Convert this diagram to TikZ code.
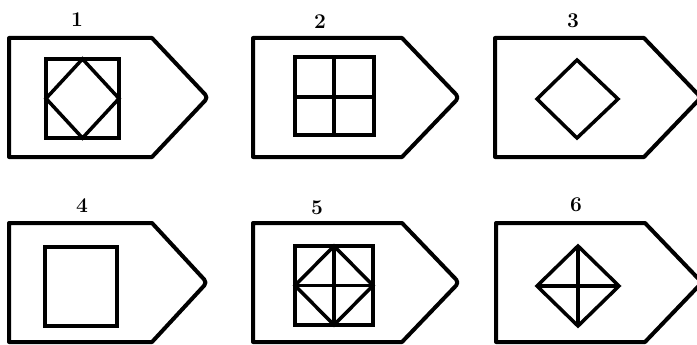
\documentclass[tikz,border=0pt]{standalone}
\begin{document}
\begin{tikzpicture}[x=1pt,y=-1pt,
  outline/.style={line width=4pt,line join=round,line cap=round},
  inner/.style={line width=3.5pt,line join=miter},
  lbl/.style={font=\bfseries\fontsize{21}{21}\selectfont,inner sep=0pt}]
\useasboundingbox (0,0) rectangle (697,345);
\begin{scope}
\clip (0,0) rectangle (697,345);
% pentagons: left, corner x, tip x, top y, bottom y
\foreach \l/\c/\t/\ty/\by in {9/152/208/38/157, 253/402/459/38/157, 495/644/701/38/157,
                               9/152/207/223/342, 253/402/459/223/342, 496/645/702/223/342}{
  \pgfmathsetmacro{\my}{(\ty+\by)/2}
  \draw[outline] (\l,\ty) -- (\c,\ty) [rounded corners=4pt] -- (\t,\my) [sharp corners] -- (\c,\by) -- (\l,\by) -- cycle;
}
\end{scope}
% labels
\node[lbl] (l1) at (77,20) {1};
\node[lbl] (l2) at (320,22) {2};
\node[lbl] (l3) at (573,21) {3};
\node[lbl] (l4) at (82,206) {4};
\node[lbl] (l5) at (317,208) {5};
\node[lbl] (l6) at (576,205) {6};
% figure 1
\draw[inner] (46,59) rectangle (119,138);
\draw[inner] (82.5,59) -- (119,98.5) -- (82.5,138) -- (46,98.5) -- cycle;
% figure 2
\draw[inner] (295,57) rectangle (374,135);
\draw[inner] (334,57) -- (334,135) (295,97) -- (374,97);
% figure 3
\draw[inner] (577,60) -- (618,99) -- (577,138) -- (537,99) -- cycle;
% figure 4
\draw[inner] (45,247) rectangle (117,326);
% figure 5
\draw[inner] (295,246) rectangle (373,325);
\draw[inner] (334,246) -- (373,285.5) -- (334,325) -- (295,285.5) -- cycle;
\draw[inner] (334,246) -- (334,325) (295,285.5) -- (373,285.5);
% figure 6
\draw[inner] (578,246) -- (619,286) -- (578,326) -- (537,286) -- cycle;
\draw[inner] (578,246) -- (578,326) (537,286) -- (619,286);
\end{tikzpicture}
\end{document}
